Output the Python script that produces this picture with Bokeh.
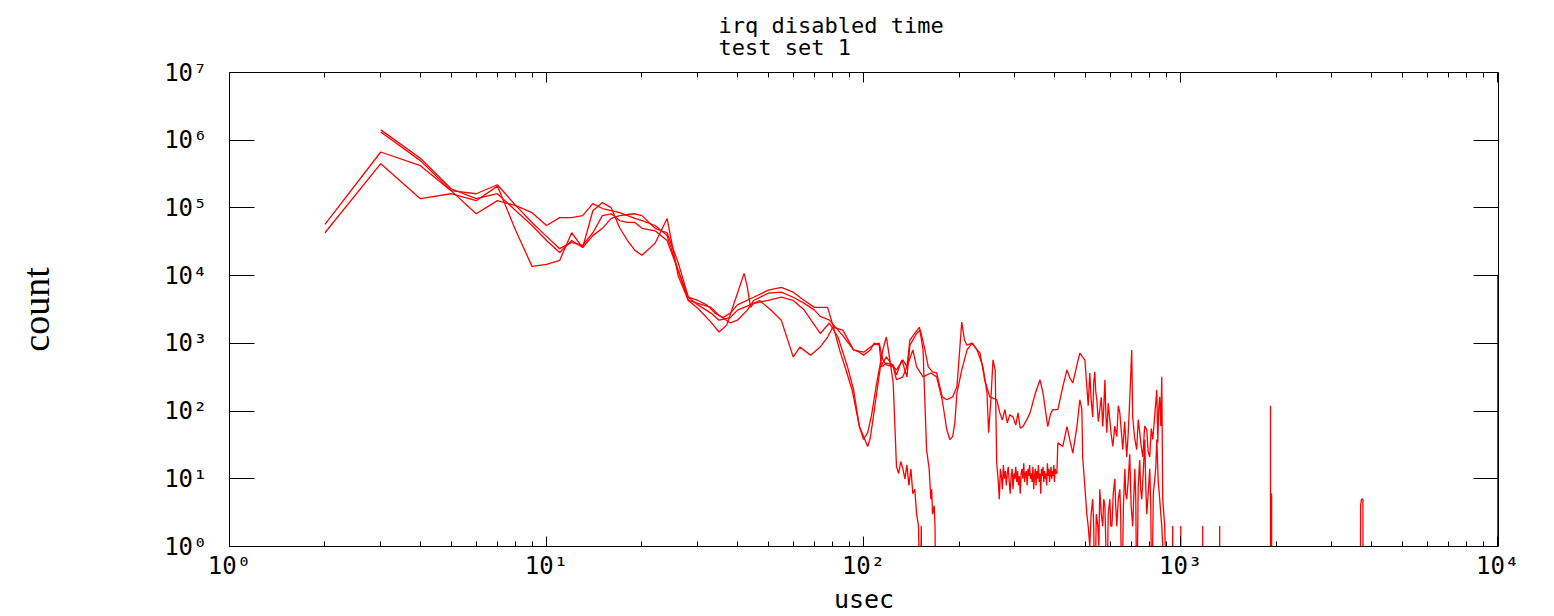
from bokeh.plotting import figure
from bokeh.models import Range1d, LogAxis, FixedTicker, ColumnDataSource, CustomJSTickFormatter
from bokeh.embed import file_html
from bokeh.resources import INLINE

# ---------------- texts ----------------
TITLE_LINES = ["irq disabled time", "test set 1"]
X_LABEL = "usec"
Y_LABEL = "count"
X_TICKS = [1, 10, 100, 1000, 10000]
X_TICK_LABELS = ["10⁰", "10¹", "10²", "10³", "10⁴"]
Y_TICKS = [1, 10, 100, 1000, 10000, 100000, 1000000, 10000000]
Y_TICK_LABELS = ["10⁰", "10¹", "10²", "10³", "10⁴", "10⁵", "10⁶", "10⁷"]

# ---------------- data (usec bin, count) ----------------
a_x = [2, 3, 4, 5, 6, 7, 8, 9, 10, 11, 12, 13, 14, 15, 16, 17, 18, 19, 20, 22, 24, 26, 28, 30,
       32, 34, 36, 38, 40, 45, 50, 55, 60, 65, 70, 77, 80, 84, 88, 92, 97, 100, 103, 106, 110, 115, 118, 121, 124,
       127, 129, 131, 133, 135, 137, 139, 141, 143, 145, 147, 149, 151, 152, 153]
a_y = [5.7e4, 6.7e5, 4.2e5, 1.8e5, 1.62e5, 2.2e5, 1.08e5, 8.5e4, 5.5e4, 7.2e4, 7.2e4, 7.7e4, 1.16e5, 9.8e4, 9.1e4,
       8.5e4, 7.7e4, 7.0e4, 6.5e4, 5.5e4, 3.9e4, 1.2e4, 4800, 4300,
       3700, 2800, 2400, 2800, 3700, 4800, 6100, 6700, 5700, 4300, 3400, 3400, 1860, 800, 405, 205, 59, 38, 48, 88,
       260, 800, 1240, 570, 260,
       15, 12, 18, 14, 10, 16, 8, 14, 6, 7, 3, 2, 0, 2, 0]

b_x = [2, 3, 4, 5, 6, 7, 8, 9, 10, 11, 12, 13, 14, 15, 16, 17, 18, 19, 20, 22, 24, 26, 28, 30,
       33, 35, 38, 40, 43, 45, 50, 55, 60, 65, 70, 73, 78, 86, 93, 100, 107, 112, 115, 118, 124, 127, 133, 137,
       140, 145, 150,
       154, 156, 158, 161, 163, 164, 165, 167, 168, 169]
b_y = [4.3e4, 4.5e5, 1.37e5, 1.62e5, 1.28e5, 2.1e5, 4.6e4, 1.37e4, 1.47e4, 1.68e4, 4.3e4, 2.6e4, 9.1e4, 1.2e5,
       1.01e5, 5.1e4, 3.3e4, 2.36e4, 2.0e4, 3.0e4, 7.0e4, 1.0e4, 4300, 3900,
       3400, 2600, 2000, 2200, 3100, 4300, 5500, 5700, 4800, 3900, 3100, 2500, 2200, 1300, 800, 740, 940, 1010,
       570, 480, 450, 405, 570, 450, 1120, 1400, 1740,
       800, 147, 27, 14, 5, 7, 3, 4, 2, 0]

c_x = [3, 4, 5, 6, 7, 8, 9, 10, 11, 12, 13, 14, 15, 16, 17, 18, 19, 20, 22, 24, 26, 28, 30,
       33, 35, 38, 40, 45, 47, 51, 55, 59, 60, 63, 68, 73, 77, 80, 86, 93, 97, 100, 105, 108, 112, 114, 118, 124,
       127, 132, 137, 140, 147, 151, 155, 160, 165, 170, 177, 183, 191, 197, 204, 208, 212, 220, 228, 233, 241,
       250, 263,
       269, 274, 279, 284, 289, 296, 302, 307, 312, 318, 327, 335, 347, 360, 368, 381, 388, 395, 410, 425, 438,
       447, 457, 471, 481, 490, 499, 506,
       511, 517, 522, 528, 532, 536, 540, 544, 550, 556, 562, 568, 572, 577, 581, 585, 591, 598, 604, 611, 620,
       629, 636, 643, 650, 657, 666, 676, 683, 691, 701, 706, 716, 727, 735, 743, 751, 760, 770, 782, 790, 799,
       808, 817, 829, 841, 847, 853, 859, 866, 872, 878, 891, 904,
       943, 944, 945, 1000, 1001, 1002, 1173, 1174, 1175, 1327, 1328, 1329, 1920, 1921, 1922, 1929, 1930, 1936,
       1937, 3690, 3695, 3720, 3758, 3760]
c_y = [1.42e6, 5.4e5, 1.92e5, 1.37e5, 1.62e5, 9.1e4, 5.5e4, 3.3e4, 2.2e4, 3.3e4, 2.6e4, 3.9e4, 5.0e4, 7.0e4,
       7.7e4, 8.0e4, 8.2e4, 7.7e4, 5.0e4, 4.3e4, 1.57e4, 4800, 3700,
       2800, 2200, 2400, 3100, 3900, 4300, 3100, 2200, 800, 630, 880, 670, 880, 1240, 1740, 1570, 800, 740, 670,
       800, 1010, 940, 450, 510, 480, 340, 570, 320, 940, 1400, 1570, 940, 450, 380, 365, 162, 147, 162, 230,
       2060, 1120, 940, 1010, 800, 720, 290, 162, 147,
       94, 74, 105, 67, 88, 82, 62, 94, 56, 59, 74, 94, 174, 290, 186, 59, 88, 105, 105, 230, 405, 310, 260, 480,
       720, 630, 570, 230,
       120, 365, 150, 82, 260, 380, 190, 147, 70, 105, 160, 59, 110, 290, 90, 48, 130, 74, 45, 30, 60,
       42, 120, 94, 50, 27, 70, 21, 45, 147, 800, 82, 40, 27, 75, 48, 30, 21, 60, 53, 25, 21,
       55, 38, 90, 205, 34, 110, 162, 60, 320, 5, 2, 0,
       0, 2, 0, 0, 2, 0, 0, 2, 0, 0, 2, 0, 0, 120, 0, 0, 6, 6, 0, 0, 4, 5, 5, 0]

d_x = [3, 4, 5, 6, 7, 8, 9, 10, 11, 12, 13, 14, 15, 16, 17, 18, 19, 20, 22, 24, 26, 28, 30,
       33, 35, 37, 40, 42, 43, 44, 45, 50, 55, 60, 65, 70, 73, 78, 83, 89, 93, 97, 100, 103, 105, 107, 110, 113,
       118, 124, 127, 133, 137, 143, 147, 154, 163, 170, 177, 183, 187, 191, 194, 197, 204, 212, 220, 228, 238,
       245, 248, 252, 256, 260, 263,
       266, 268, 270, 272, 274, 276, 278, 280, 282, 284, 286, 288, 290, 292, 294, 296, 298, 300, 302, 304, 306,
       308, 310, 312, 314, 316, 318, 320, 322, 324, 326, 328, 330, 332, 334, 336, 338, 340, 342, 344, 346, 348,
       350, 352, 354, 356, 358, 360, 362, 364, 366, 368, 370, 372, 374, 376, 378, 380, 382, 384, 386, 388, 390,
       392, 394, 396, 398, 400, 402, 404,
       407, 410, 425, 438, 447, 457, 471, 481, 488, 491, 506,
       511, 517, 522, 528, 532, 536, 542, 548, 552, 556, 562, 568, 572, 577, 581, 585, 591, 598, 602, 607, 613,
       620, 624, 629, 636, 643, 647, 652, 660, 667, 671, 676, 683, 691, 698, 706, 712, 717, 722, 727, 735, 743,
       748, 754, 762, 771, 776, 782, 790, 799, 805, 811, 820, 829, 835, 841, 850, 859, 866, 872, 878, 885,
       9999, 10000]
d_y = [1.32e6, 5.0e5, 1.8e5, 8.2e4, 1.28e5, 1.08e5, 6.1e4, 3.8e4, 2.5e4, 3.1e4, 2.8e4, 4.3e4, 7.7e4, 8.2e4,
       6.5e4, 6.1e4, 6.1e4, 5.0e4, 4.6e4, 3.3e4, 1.2e4, 4300, 3300,
       2060, 1470, 1860, 5500, 1.08e4, 6700, 3400, 3900, 4300, 4800, 4300, 3100, 1860, 1400, 2000, 1240, 450,
       205, 59, 42, 30, 40, 74, 186, 450, 630, 450, 290, 320, 450, 800, 450, 320, 365, 320, 147, 53, 38, 42, 67,
       186, 405, 800, 1010, 800, 450, 186, 48, 147, 570, 405, 17,
       9, 5, 14, 11, 7, 16, 10, 13, 8, 12, 15, 9, 6, 11, 14, 7, 12, 10, 15, 9, 13, 8, 11, 6, 12, 14, 10, 17, 9,
       12, 13, 8, 14, 11, 16, 10, 12, 9, 15, 7, 11, 14, 8, 13, 10, 16, 9, 12, 6, 14, 11, 15, 9, 13, 10, 12, 8,
       17, 11, 14, 9, 12, 15, 10, 13, 11, 16, 9, 14, 12,
       12, 34, 30, 59, 38, 24, 59, 147, 105, 21, 3,
       2, 1, 3, 5, 2, 0, 3, 2, 1, 7, 3, 2, 5, 4, 1, 0, 3, 5, 2, 2, 6, 10, 4, 2, 5, 7, 3, 0, 4, 14, 6, 5, 9, 23,
       4, 2, 6, 14, 5, 0, 8, 19, 7, 5, 12, 38, 8, 3, 6, 14, 4, 0, 6, 10, 15, 38, 9, 5, 3, 2, 1, 0,
       0, 1e4]

SERIES = [(a_x, a_y), (b_x, b_y), (c_x, c_y), (d_x, d_y)]

# zero-count bins are drawn below the visible floor of the log axis (clipped, as in the original)
ZERO_FLOOR = 0.1

# ---------------- layout (figure pixels) ----------------
W, H = 1554, 616
FL, FR, FT, FB = 229, 1498, 72, 547
# the range ends a hair past 10^4 so the overflow bin drawn at 10^4 stays visible inside the frame edge
X_END_PAD = 1.006

p = figure(width=W, height=H, x_axis_type="log", y_axis_type="log",
           x_range=Range1d(X_TICKS[0], X_TICKS[-1] * X_END_PAD), y_range=Range1d(Y_TICKS[0], Y_TICKS[-1]),
           output_backend="svg", toolbar_location=None,
           min_border_left=FL, min_border_right=W - FR,
           min_border_top=FT, min_border_bottom=H - FB)
p.background_fill_color = "white"
p.border_fill_color = "white"
p.outline_line_color = None
p.grid.visible = False

TICK_FONT = "DejaVu Sans Mono"

# title: two lines, left-aligned at the same x as in the original
p.title.text = "\n".join(TITLE_LINES)
p.title.align = "left"
p.title.vertical_align = "top"
p.title.offset = 718 - FL
p.title.text_font = TICK_FONT
p.title.text_font_size = "22px"
p.title.text_font_style = "normal"
p.title.text_line_height = 0.88
p.title.text_color = "black"
p.title.standoff = 21

x_minor = [m * 10 ** k for k in range(4) for m in range(2, 10)]
x_ticker = FixedTicker(ticks=X_TICKS, minor_ticks=x_minor)
y_ticker = FixedTicker(ticks=Y_TICKS, minor_ticks=[])
blank = CustomJSTickFormatter(code="return ''")

xb = p.xaxis[0]
xb.ticker = x_ticker
xb.major_label_overrides = dict(zip(X_TICKS, X_TICK_LABELS))
xb.major_tick_in, xb.major_tick_out = 10, 0
xb.minor_tick_in, xb.minor_tick_out = 5, 0
xb.major_label_standoff = 5
xb.major_label_text_font = TICK_FONT
xb.major_label_text_font_size = "24px"
xb.major_label_text_color = "black"
xb.axis_label = X_LABEL
xb.axis_label_text_font = TICK_FONT
xb.axis_label_text_font_size = "25px"
xb.axis_label_text_font_style = "normal"
xb.axis_label_standoff = 2

yl = p.yaxis[0]
yl.ticker = y_ticker
yl.major_label_overrides = dict(zip(Y_TICKS, Y_TICK_LABELS))
yl.major_tick_in, yl.major_tick_out = 25, 0
yl.minor_tick_in, yl.minor_tick_out = 0, 0
yl.major_label_standoff = 22
yl.major_label_text_font = TICK_FONT
yl.major_label_text_font_size = "24px"
yl.major_label_text_color = "black"
yl.axis_label = Y_LABEL
yl.axis_label_text_font = "Liberation Serif"
yl.axis_label_text_font_size = "38px"
yl.axis_label_text_font_style = "normal"
yl.axis_label_standoff = 104

xt = LogAxis(ticker=x_ticker, formatter=blank, major_tick_in=10, major_tick_out=0,
             minor_tick_in=5, minor_tick_out=0, major_label_text_font_size="1px", major_label_standoff=0)
yr = LogAxis(ticker=y_ticker, formatter=blank, major_tick_in=25, major_tick_out=0,
             minor_tick_in=0, minor_tick_out=0, major_label_text_font_size="1px", major_label_standoff=0)
p.add_layout(xt, "above")
p.add_layout(yr, "right")

for ax in (xb, yl, xt, yr):
    ax.axis_line_color = "black"
    ax.axis_line_width = 1
    ax.major_tick_line_color = "black"
    ax.minor_tick_line_color = "black"
    ax.axis_label_text_color = "black"

for xs, ys in SERIES:
    src = ColumnDataSource(dict(x=xs, y=[v if v > 0 else ZERO_FLOOR for v in ys]))
    p.line("x", "y", source=src, line_color="#ff0000", line_width=1.3)

open("out.html", "w").write(file_html(p, INLINE))
